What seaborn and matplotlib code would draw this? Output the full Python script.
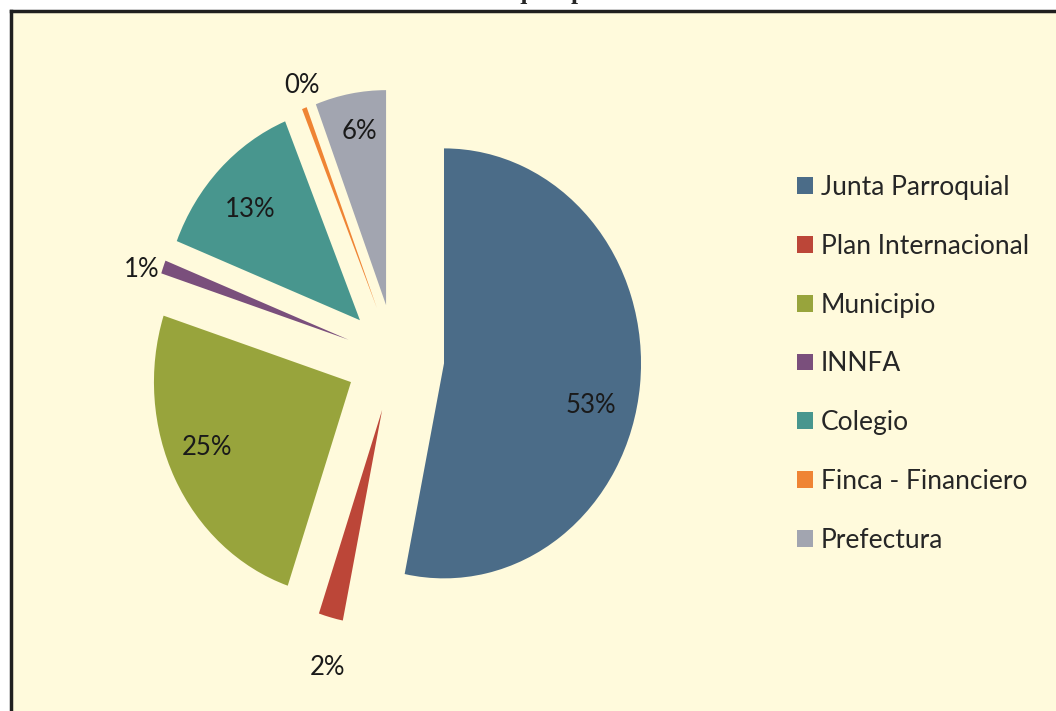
import matplotlib
matplotlib.use("Agg")
import matplotlib.pyplot as plt
import seaborn as sns
import numpy as np

# data
institutions = ["Junta Parroquial", "Plan Internacional", "Municipio", "INNFA",
                "Colegio", "Finca - Financiero", "Prefectura"]
shares = [53.2, 2.0, 24.8, 1.0, 12.8, 0.4, 5.8]
colors = ["#4B6C88", "#BC4638", "#98A43C", "#7A4F7C", "#48968E", "#EF8434", "#A2A5B0"]
title = "Gráfico N° 11 Instituciones que aportan a la casa comunal"

# label placement (radial factor, angle offset in degrees), per wedge
label_layout = [(0.77, -9), (1.23, 2), (0.79, -4), (1.1, 2.5), (0.76, 2), (1.1, -1.5), (0.82, -1)]

sns.set_theme(style="white")
plt.rcParams["font.family"] = ["Lato", "DejaVu Sans"]

fig = plt.figure(figsize=(10.56, 7.11), dpi=100)
fig.patch.set_facecolor("white")
ax = fig.add_axes([11 / 1056, 0, 1045 / 1056, 700 / 711])
ax.set_facecolor("#FFFADC")

wedges, _ = ax.pie(shares, colors=colors, startangle=90, counterclock=False,
                   explode=[0.25] * len(shares), radius=1, frame=True,
                   wedgeprops=dict(linewidth=0))
ax.set_aspect("auto")
ax.set_xlim(-1.949, 3.355)
ax.set_ylim(-1.642, 1.614)
ax.set_xticks([])
ax.set_yticks([])
for side in ["right", "bottom"]:
    ax.spines[side].set_visible(False)
for side in ["left", "top"]:
    ax.spines[side].set_color("#1f1f1f")
    ax.spines[side].set_linewidth(2.5)

total = sum(shares)
for w, v, (f, off) in zip(wedges, shares, label_layout):
    th = np.deg2rad((w.theta1 + w.theta2) / 2 + off)
    cx, cy = w.center
    ax.text(cx + f * np.cos(th), cy + f * np.sin(th), f"{v / total * 100:.0f}%",
            ha="center", va="center", fontsize=18.5, color="#1a1a1a")

ax.legend(wedges, institutions, loc="upper left",
          bbox_to_anchor=(797 / 1056, 1 - 175 / 711), bbox_transform=fig.transFigure,
          frameon=False, fontsize=19, handlelength=0.6, handleheight=0.6,
          handletextpad=0.3, labelspacing=1.28, borderpad=0, borderaxespad=0)

# title of the source document, mostly cut off at the top edge as in the original
fig.text(0.5, 1 + 1 / 711, title, ha="center", va="baseline", fontsize=18,
         fontweight="bold", family=["Liberation Serif", "DejaVu Serif"])

fig.savefig("out.png", dpi=100, facecolor=fig.get_facecolor())
